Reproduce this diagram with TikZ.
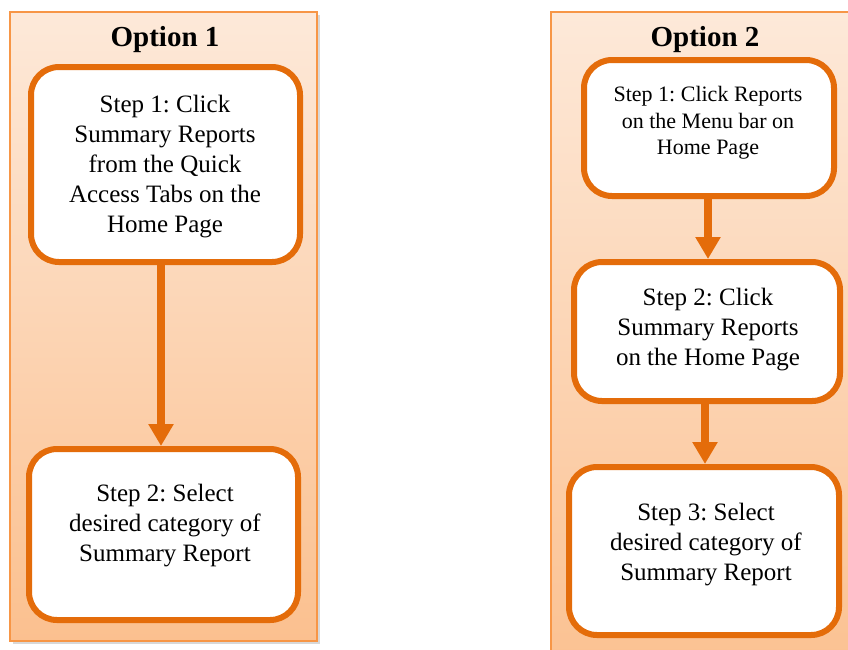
\documentclass[tikz,border=0pt]{standalone}
\usepackage{fontspec}
\setmainfont{Liberation Serif}
\frenchspacing
\usetikzlibrary{arrows.meta,shadows}
\definecolor{panelborder}{RGB}{247,150,70}
\definecolor{paneltop}{RGB}{253,233,217}
\definecolor{panelbot}{RGB}{251,192,143}
\definecolor{boxorange}{RGB}{228,108,10}
\begin{document}
\begin{tikzpicture}[x=1pt,y=-1pt,
  panel/.style={draw=panelborder, line width=1.5pt, top color=paneltop, bottom color=panelbot,
    drop shadow={opacity=0.25, shadow xshift=3pt, shadow yshift=-3pt, fill=black!60}},
  stepbox/.style={draw=boxorange, line width=6pt, fill=white, rounded corners=28pt, inner sep=0pt},
  steptext/.style={align=center, font=\fontsize{25}{30}\selectfont, inner sep=0pt},
  smalltext/.style={align=center, font=\fontsize{22}{26.5}\selectfont, inner sep=0pt},
  titletext/.style={font=\fontsize{29}{34}\selectfont\bfseries, inner sep=0pt},
  flow/.style={draw=boxorange, line width=8pt, -{Triangle[width=24pt,length=22pt]}}]
\clip (0,0) rectangle (848,649);
\fill[white] (0,0) rectangle (848,649);
% panels
\path[panel] (10,12) rectangle (317,641);
\path[panel] (551,12) rectangle (890,690);
% titles
\node[titletext] (title1) at (165,40) {Option 1};
\node[titletext] (title2) at (705,40) {Option 2};
% option 1 boxes
\node[stepbox, minimum width=269pt, minimum height=195pt] (a1) at (165.5,164.5) {};
\node[stepbox, minimum width=269pt, minimum height=171pt] (a2) at (163.5,534.5) {};
\node[steptext] (ta1) at (165,167) {Step 1: Click\\Summary Reports\\from the Quick\\Access Tabs on the\\Home Page};
\node[steptext] (ta2) at (165,526) {Step 2: Select\\desired category of\\Summary Report};
% option 2 boxes
\node[stepbox, minimum width=250pt, minimum height=136pt] (b1) at (709,128) {};
\node[stepbox, minimum width=266pt, minimum height=139pt] (b2) at (707,331.5) {};
\node[stepbox, minimum width=270pt, minimum height=168pt] (b3) at (704,551) {};
\node[smalltext] (tb1) at (708,123) {Step 1: Click Reports\\on the Menu bar on\\Home Page};
\node[steptext] (tb2) at (708,330) {Step 2: Click\\Summary Reports\\on the Home Page};
\node[steptext] (tb3) at (706,545) {Step 3: Select\\desired category of\\Summary Report};
% arrows
\draw[flow] ([xshift=-4.5pt]a1.south) -- ([xshift=-2.5pt]a2.north);
\draw[flow] ([xshift=-1pt]b1.south) -- ([xshift=1pt]b2.north);
\draw[flow] ([xshift=-2pt]b2.south) -- ([xshift=1pt]b3.north);
\end{tikzpicture}
\end{document}
